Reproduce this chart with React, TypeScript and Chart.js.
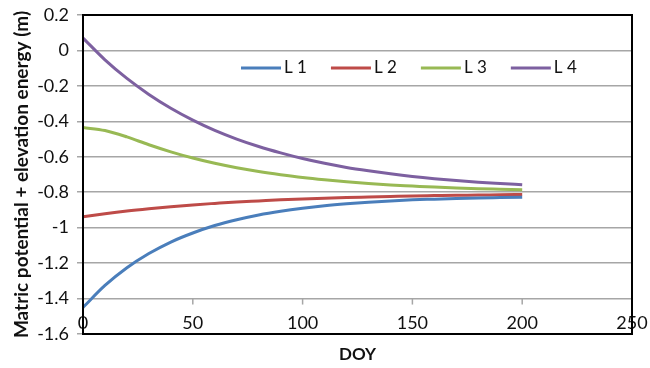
import React, { useEffect, useRef } from "react";
import { Chart, registerables } from "chart.js";

Chart.register(...registerables);

// ---- data ----
const doy = [0, 10, 20, 30, 40, 50, 60, 70, 80, 90, 100, 110, 120, 130, 140, 150, 160, 170, 180, 190, 200];
const seriesNames = ["L 1", "L 2", "L 3", "L 4"];
const l1 = [-1.45, -1.326, -1.226, -1.146, -1.081, -1.03, -0.988, -0.955, -0.928, -0.907, -0.89, -0.876, -0.865, -0.856, -0.849, -0.843, -0.839, -0.835, -0.832, -0.83, -0.828];
const l2 = [-0.939, -0.9215, -0.906, -0.893, -0.8815, -0.8715, -0.863, -0.855, -0.849, -0.843, -0.838, -0.834, -0.83, -0.827, -0.824, -0.821, -0.819, -0.817, -0.816, -0.814, -0.813];
const l3 = [-0.435, -0.452, -0.488, -0.532, -0.572, -0.607, -0.637, -0.662, -0.683, -0.701, -0.717, -0.73, -0.741, -0.751, -0.759, -0.765, -0.771, -0.776, -0.78, -0.783, -0.786];
const l4 = [0.07, -0.053, -0.158, -0.248, -0.326, -0.393, -0.451, -0.5, -0.542, -0.578, -0.61, -0.637, -0.66, -0.679, -0.696, -0.711, -0.7235, -0.734, -0.7435, -0.751, -0.758];
const seriesColors = ["#4a7ebb", "#be4b48", "#98b954", "#7d60a0"];
const xMin = 0;
const xMax = 250;
const xStep = 50;
const yMin = -1.6;
const yMax = 0.2;
const yStep = 0.2;
const xAxisCrossValue = -1.4;
const xTitle = "DOY";
const yTitle = "Matric potential + elevation energy (m)";

const FONT = "Lato";

const framePlugin = {
  id: "frame",
  afterDraw(chart: any) {
    const { ctx, chartArea } = chart;
    ctx.save();
    ctx.strokeStyle = "#000";
    ctx.lineWidth = 2;
    ctx.strokeRect(chartArea.left, chartArea.top, chartArea.right - chartArea.left, chartArea.bottom - chartArea.top);
    ctx.restore();
  },
};

const xTickMarksPlugin = {
  id: "xTickMarks",
  beforeDatasetsDraw(chart: any) {
    const { ctx } = chart;
    const xs = chart.scales.x;
    const ys = chart.scales.y;
    const y0 = ys.getPixelForValue(xAxisCrossValue);
    ctx.save();
    ctx.strokeStyle = "#a6a6a6";
    ctx.lineWidth = 1.5;
    xs.ticks.forEach((t: any) => {
      if (t.value <= xMin || t.value >= xMax) return;
      const px = xs.getPixelForValue(t.value);
      ctx.beginPath();
      ctx.moveTo(px, y0);
      ctx.lineTo(px, y0 + 6);
      ctx.stroke();
    });
    ctx.restore();
  },
};

const insideLegendPlugin = {
  id: "insideLegend",
  afterDraw(chart: any) {
    const { ctx, chartArea } = chart;
    ctx.save();
    ctx.font = `17px ${FONT}`;
    ctx.textBaseline = "middle";
    ctx.textAlign = "left";
    let x = chartArea.left + 158;
    const y = chartArea.top + 53;
    chart.data.datasets.forEach((ds: any) => {
      ctx.strokeStyle = ds.borderColor;
      ctx.lineWidth = 3;
      ctx.beginPath();
      ctx.moveTo(x, y);
      ctx.lineTo(x + 40, y);
      ctx.stroke();
      ctx.fillStyle = "#111";
      ctx.fillText(ds.label, x + 43, y);
      x += 43 + ctx.measureText(ds.label).width + 24;
    });
    ctx.restore();
  },
};

export default function App() {
  const canvasRef = useRef<HTMLCanvasElement>(null);

  useEffect(() => {
    document.body.style.margin = "0";
    const allSeries = [l1, l2, l3, l4];
    const chart = new Chart(canvasRef.current!, {
      type: "line",
      data: {
        datasets: allSeries.map((s, i) => ({
          label: seriesNames[i],
          data: doy.map((d, j) => ({ x: d, y: s[j] })),
          borderColor: seriesColors[i],
          backgroundColor: seriesColors[i],
          borderWidth: 3,
          pointRadius: 0,
          cubicInterpolationMode: "monotone" as const,
          fill: false,
        })),
      },
      options: {
        animation: false,
        responsive: true,
        maintainAspectRatio: false,
        layout: { padding: { left: 10, right: 18, top: 15, bottom: 0 } },
        plugins: {
          legend: { display: false },
          tooltip: { enabled: false },
        },
        scales: {
          x: {
            type: "linear",
            min: xMin,
            max: xMax,
            ticks: {
              stepSize: xStep,
              mirror: true,
              padding: 0,
              color: "#111",
              font: { family: FONT, size: 18 },
              maxRotation: 0,
            },
            grid: { display: false },
            border: { display: false },
            title: {
              display: true,
              text: xTitle,
              color: "#111",
              font: { family: FONT, size: 17, weight: "bold" },
              padding: { top: 3, bottom: 3 },
            },
            afterFit: (scale: any) => {
              scale.height = 34;
              scale.paddingLeft = 0;
              scale.paddingRight = 0;
            },
          },
          y: {
            type: "linear",
            min: yMin,
            max: yMax,
            ticks: {
              stepSize: yStep,
              padding: 8,
              color: "#111",
              font: { family: FONT, size: 18 },
              callback: (v: any) => String(Number(Number(v).toFixed(1))),
            },
            grid: {
              color: "#a6a6a6",
              lineWidth: 1.5,
              tickLength: 6,
              tickColor: "#a6a6a6",
            },
            border: { display: false },
            title: {
              display: true,
              text: yTitle,
              color: "#111",
              font: { family: FONT, size: 19, weight: "bold" },
              padding: { top: 0, bottom: 0 },
            },
            afterFit: (scale: any) => {
              scale.width = 73;
              scale.paddingTop = 0;
              scale.paddingBottom = 0;
            },
          },
        },
      },
      plugins: [xTickMarksPlugin, framePlugin, insideLegendPlugin],
    } as any);
    return () => chart.destroy();
  }, []);

  return (
    <div style={{ position: "fixed", left: 0, top: 0, width: 650, height: 368, background: "#fff" }}>
      <canvas ref={canvasRef} />
    </div>
  );
}
